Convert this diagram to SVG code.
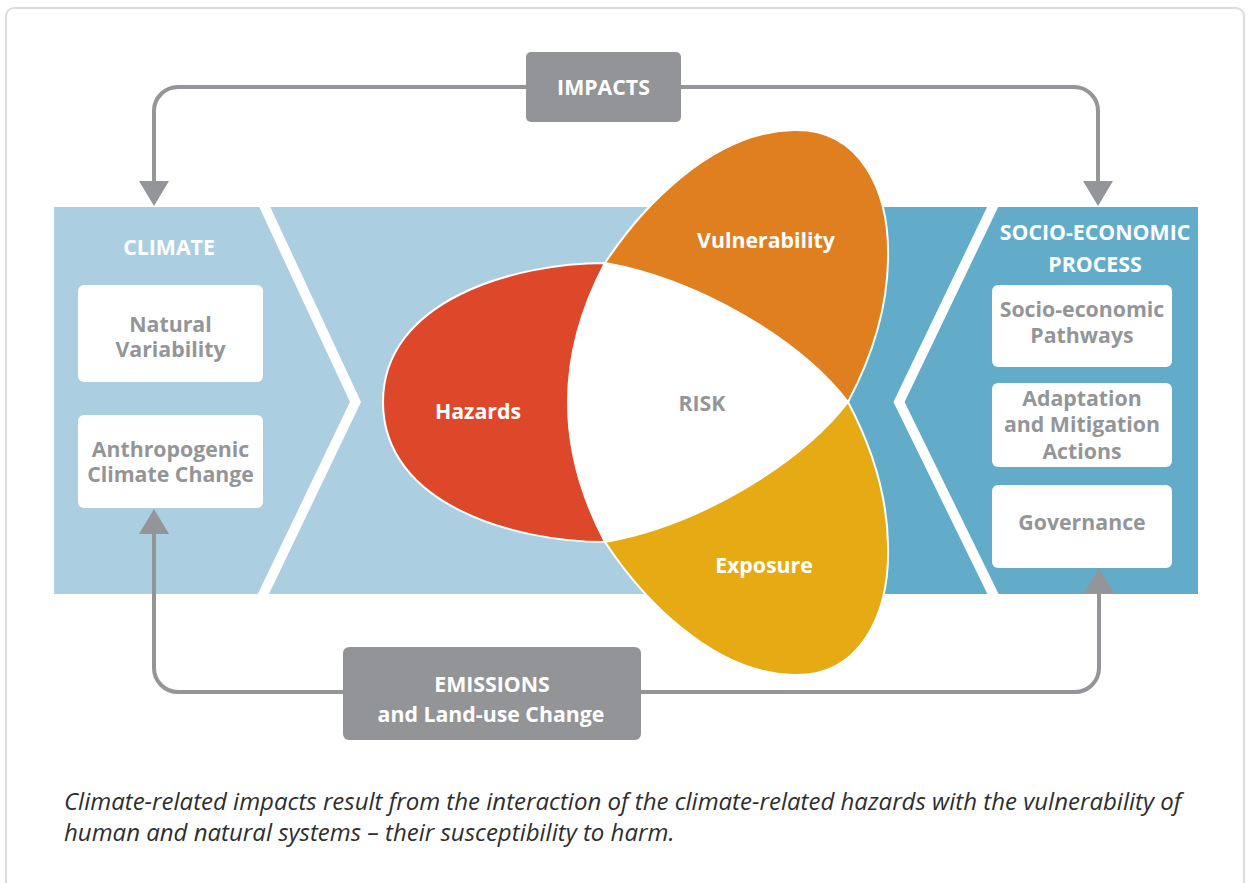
<svg xmlns="http://www.w3.org/2000/svg" width="1250" height="883" viewBox="0 0 1250 883">
<defs>
<style>
.frame{fill:#fff;stroke:#dcdcdc;stroke-width:2}
.lb{fill:#abcfe1}
.db{fill:#62acca}
.stripe{fill:none;stroke:#fff;stroke-width:10;stroke-linejoin:miter}
.box{fill:#fff}
.gbox{fill:#939498}
.conn{fill:none;stroke:#949599;stroke-width:4}
.t{font-family:"Open Sans","Liberation Sans",sans-serif;font-weight:700;text-anchor:middle;font-size:21.3px}
.wt{fill:#fff}
.gt{fill:#939598}
.petal{stroke:#fff;stroke-width:2}
.cap{font-family:"Open Sans","Liberation Sans",sans-serif;font-style:italic;font-size:24px;fill:#2e2e2e}
</style>
<marker id="arr" markerUnits="userSpaceOnUse" markerWidth="26" markerHeight="30" refX="0" refY="15" orient="auto" viewBox="0 0 26 30">
<path d="M0,0 L25,15 L0,30 Z" fill="#949599"/>
</marker>
</defs>
<rect class="frame" x="6" y="8" width="1238" height="900" rx="8"/>

<g id="background">
<rect class="lb" x="54" y="207" width="660" height="387"/>
<rect class="db" x="714" y="207" width="484" height="387"/>
<polyline class="stripe" points="261.5,200 355.5,402 260.5,600"/>
<polyline class="stripe" points="996,200 899,402 996,600"/>
</g>

<g id="connectors">
<path class="conn" d="M526,87 H178 A24,24 0 0 0 154,111 V181" marker-end="url(#arr)"/>
<path class="conn" d="M681,87 H1074 A24,24 0 0 1 1098,111 V181" marker-end="url(#arr)"/>
<path class="conn" d="M343,692 H178 A24,24 0 0 1 154,668 V534" marker-end="url(#arr)"/>
<path class="conn" d="M641,692 H1075 A24,24 0 0 0 1099,668 V593" marker-end="url(#arr)"/>
</g>

<g id="impacts">
<rect class="gbox" x="526" y="52" width="155" height="70" rx="5"/>
<text class="t wt" x="603.5" y="95">IMPACTS</text>
</g>

<g id="emissions">
<rect class="gbox" x="343" y="647" width="298" height="93" rx="6"/>
<text class="t wt" x="492" y="692">EMISSIONS</text>
<text class="t wt" x="491" y="722">and Land-use Change</text>
</g>

<g id="climate">
<text class="t wt" x="169" y="255">CLIMATE</text>
</g>
<g id="natural-variability">
<rect class="box" x="78" y="285" width="185" height="97" rx="6"/>
<text class="t gt" x="170.5" y="332">Natural</text>
<text class="t gt" x="170.5" y="357">Variability</text>
</g>
<g id="anthropogenic">
<rect class="box" x="78" y="415" width="185" height="93" rx="6"/>
<text class="t gt" x="170.5" y="457">Anthropogenic</text>
<text class="t gt" x="170.5" y="482">Climate Change</text>
</g>

<g id="socio-economic-process">
<text class="t wt" x="1095" y="240">SOCIO-ECONOMIC</text>
<text class="t wt" x="1095" y="272">PROCESS</text>
</g>
<g id="pathways">
<rect class="box" x="992" y="285" width="180" height="82" rx="6"/>
<text class="t gt" x="1082" y="317">Socio-economic</text>
<text class="t gt" x="1082" y="343">Pathways</text>
</g>
<g id="adaptation">
<rect class="box" x="992" y="383" width="180" height="84" rx="6"/>
<text class="t gt" x="1082" y="406">Adaptation</text>
<text class="t gt" x="1082" y="432">and Mitigation</text>
<text class="t gt" x="1082" y="459">Actions</text>
</g>
<g id="governance">
<rect class="box" x="992" y="485" width="180" height="83" rx="6"/>
<text class="t gt" x="1082" y="530">Governance</text>
</g>

<g id="hazards">
<path class="petal" fill="#dd482b" d="M605,263 C515,263 383,300 383,402 C383,505 515,542 605,542 Q531,402 605,263 Z"/>
<text class="t wt" x="478" y="419">Hazards</text>
</g>
<g id="vulnerability">
<path class="petal" fill="#df7f1f" d="M605,263 C640,210 710,132 793,130 C860,128 890,190 888,260 C887,320 865,370 848,402 C800,340 700,280 605,263 Z"/>
<text class="t wt" x="766" y="248">Vulnerability</text>
</g>
<g id="exposure">
<path class="petal" fill="#e5aa14" d="M605,542 C640,595 710,673 793,675 C860,677 890,615 888,545 C887,485 865,434 848,402 C800,464 700,525 605,542 Z"/>
<text class="t wt" x="764" y="573">Exposure</text>
</g>
<g id="risk">
<path fill="#fff" stroke="#fff" stroke-width="1" d="M605,263 C700,280 800,340 848,402 C800,464 700,525 605,542 Q531,402 605,263 Z"/>
<text class="t gt" x="702" y="411">RISK</text>
</g>

<g id="caption">
<text class="cap" x="64" y="810">Climate-related impacts result from the interaction of the climate-related hazards with the vulnerability of</text>
<text class="cap" x="64" y="841">human and natural systems – their susceptibility to harm.</text>
</g>
</svg>
